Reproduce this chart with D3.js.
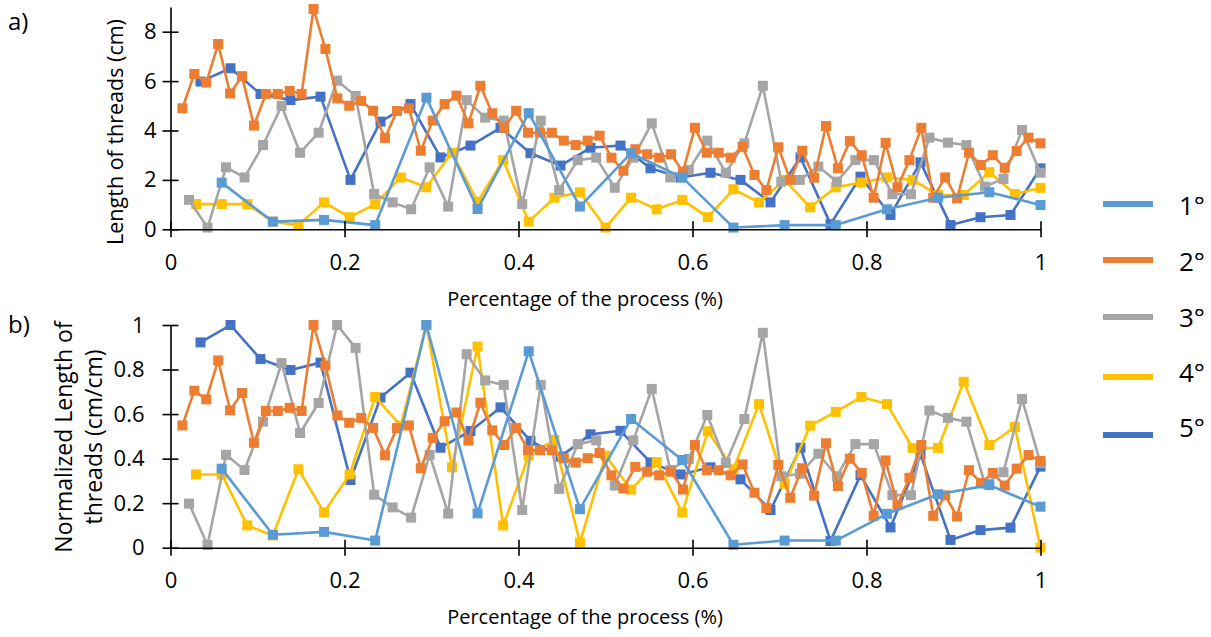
<!DOCTYPE html>
<html>
<head>
<meta charset="utf-8">
<script src="https://cdn.jsdelivr.net/npm/d3@7/dist/d3.min.js"></script>
<style>
body { margin: 0; background: #fff; }
svg { display: block; font-family: "Open Sans", sans-serif; }
</style>
</head>
<body>
<script>
const seriesNames = ["1°", "2°", "3°", "4°", "5°"]
const colors = ["#5B9BD5", "#ED7D31", "#A5A5A5", "#FFC000", "#4472C4"]

// a) length of threads (cm), samples spread evenly over the process
const lenS1 = [1.89, 0.31, 0.38, 0.17, 5.33, 0.82, 4.7, 0.92, 3.08, 2.1, 0.07, 0.17, 0.17, 0.81, 1.28, 1.5, 0.98]
const lenS2 = [4.9, 6.29, 5.94, 7.5, 5.5, 6.2, 4.2, 5.48, 5.48, 5.6,
  5.48, 8.92, 7.3, 5.3, 5.0, 5.2, 4.8, 3.7, 4.79, 4.9,
  3.18, 4.4, 5.07, 5.41, 4.29, 5.81, 4.7, 4.11, 4.8, 3.91,
  3.91, 3.91, 3.59, 3.41, 3.59, 3.79, 2.9, 2.37, 3.24, 3.04,
  2.9, 3.04, 2.33, 4.11, 3.1, 3.1, 2.9, 3.34, 2.2, 1.59,
  3.32, 2.0, 3.18, 2.09, 4.18, 2.47, 3.57, 3.0, 1.28, 3.5,
  1.7, 2.8, 4.11, 1.28, 2.1, 1.25, 3.1, 2.6, 3.0, 2.49,
  3.17, 3.71, 3.48]
const lenS3 = [1.19, 0.07, 2.51, 2.1, 3.41, 4.99, 3.1, 3.91, 6.02, 5.4,
  1.43, 1.09, 0.81, 2.51, 0.92, 5.23, 4.52, 4.4, 1.02, 4.4,
  1.59, 2.8, 2.9, 1.68, 2.9, 4.29, 2.1, 2.4, 3.59, 2.29,
  3.48, 5.81, 1.93, 2.0, 2.54, 1.93, 2.8, 2.8, 1.42, 1.42,
  3.71, 3.51, 3.41, 1.73, 2.04, 4.02, 2.29]
const lenS4 = [1.02, 1.02, 1.02, 0.31, 0.17, 1.09, 0.49, 1.02, 2.1, 1.7,
  3.1, 1.12, 2.8, 0.31, 1.28, 1.5, 0.07, 1.28, 0.81, 1.19,
  0.49, 1.62, 1.09, 2.0, 0.89, 1.7, 1.89, 2.1, 2.0, 1.39,
  1.39, 2.31, 1.43, 1.68]
const lenS5 = [5.98, 6.52, 5.48, 5.23, 5.37, 2.0, 4.36, 5.07, 2.91, 3.39,
  4.11, 3.08, 2.58, 3.3, 3.39, 2.47, 2.1, 2.29, 2.0, 1.09,
  2.91, 0.21, 2.13, 0.58, 2.71, 0.17, 0.49, 0.58, 2.47]

// b) normalized length of threads (cm/cm)
const normS1 = [0.355, 0.058, 0.071, 0.032, 1, 0.154, 0.882, 0.173, 0.578, 0.394, 0.013, 0.032, 0.032, 0.152, 0.24, 0.281, 0.184]
const normS2 = [0.549, 0.705, 0.666, 0.841, 0.617, 0.695, 0.471, 0.614, 0.614, 0.628,
  0.614, 1, 0.818, 0.594, 0.561, 0.583, 0.538, 0.415, 0.537, 0.549,
  0.357, 0.493, 0.568, 0.607, 0.481, 0.651, 0.527, 0.461, 0.538, 0.438,
  0.438, 0.438, 0.402, 0.382, 0.402, 0.425, 0.325, 0.266, 0.363, 0.341,
  0.325, 0.341, 0.261, 0.461, 0.348, 0.348, 0.325, 0.374, 0.247, 0.178,
  0.372, 0.224, 0.357, 0.234, 0.469, 0.277, 0.4, 0.336, 0.143, 0.392,
  0.191, 0.314, 0.461, 0.143, 0.235, 0.14, 0.348, 0.291, 0.336, 0.279,
  0.355, 0.416, 0.39]
const normS3 = [0.198, 0.012, 0.417, 0.349, 0.566, 0.829, 0.515, 0.65, 1, 0.897,
  0.238, 0.181, 0.135, 0.417, 0.153, 0.869, 0.751, 0.731, 0.169, 0.731,
  0.264, 0.465, 0.482, 0.279, 0.482, 0.713, 0.349, 0.399, 0.596, 0.38,
  0.578, 0.965, 0.321, 0.332, 0.422, 0.321, 0.465, 0.465, 0.236, 0.236,
  0.616, 0.583, 0.566, 0.287, 0.339, 0.668, 0.38]
const normS4 = [0.329, 0.329, 0.1, 0.055, 0.352, 0.158, 0.329, 0.677, 0.548, 1,
  0.361, 0.903, 0.1, 0.413, 0.484, 0.023, 0.413, 0.261, 0.384, 0.158,
  0.523, 0.352, 0.645, 0.287, 0.548, 0.61, 0.677, 0.645, 0.448, 0.448,
  0.745, 0.461, 0.542, 0]
const normS5 = [0.922, 1, 0.847, 0.798, 0.831, 0.304, 0.674, 0.786, 0.449, 0.524,
  0.63, 0.48, 0.409, 0.509, 0.525, 0.383, 0.329, 0.361, 0.307, 0.169,
  0.449, 0.03, 0.326, 0.091, 0.419, 0.035, 0.079, 0.09, 0.364]

const xTicks = [0, 0.2, 0.4, 0.6, 0.8, 1]
const yTicksA = [0, 2, 4, 6, 8]
const yTicksB = [0, 0.2, 0.4, 0.6, 0.8, 1]

const width = 1211, height = 637

const svg = d3.select("body").append("svg")
  .attr("width", width)
  .attr("height", height)

const x = d3.scaleLinear().domain([0, 1]).range([170.5, 1040.5])

function toPoints(values) {
  // each sample sits at its fraction of the process
  return values.map((v, i) => ({ x: (i + 1) / values.length, y: v }))
}

function drawPanel(opts) {
  const y = d3.scaleLinear().domain(opts.yDomain).range(opts.yRange)
  const g = svg.append("g")

  const line = d3.line().x(d => x(d.x)).y(d => y(d.y))

  // series 5 first so series 1 ends on top
  for (let k = opts.series.length - 1; k >= 0; k--) {
    const pts = toPoints(opts.series[k])
    const sg = g.append("g")
    sg.append("path")
      .datum(pts)
      .attr("d", line)
      .attr("fill", "none")
      .attr("stroke", colors[k])
      .attr("stroke-width", 2.6)
      .attr("stroke-linejoin", "round")
    sg.selectAll("rect")
      .data(pts)
      .enter()
      .append("rect")
      .attr("x", d => x(d.x) - 5)
      .attr("y", d => y(d.y) - 5)
      .attr("width", 10)
      .attr("height", 10)
      .attr("fill", colors[k])
  }

  // axes with ticks crossing the line
  const xAxis = g.append("g")
    .attr("transform", `translate(0,${opts.yRange[0]})`)
    .call(d3.axisBottom(x).tickValues(xTicks).tickSize(0).tickFormat(d => String(d)))
  xAxis.selectAll(".tick line").attr("y1", -8).attr("y2", 8)
  xAxis.selectAll(".tick text").attr("y", 33).attr("dy", "0.35em")

  const yAxis = g.append("g")
    .attr("transform", `translate(${x(0)},0)`)
    .call(d3.axisLeft(y).tickValues(opts.yTicks).tickSize(0).tickPadding(opts.yPad).tickFormat(d => String(d)))
  yAxis.selectAll(".tick line").attr("x1", -8).attr("x2", 8)

  for (const ax of [xAxis, yAxis]) {
    ax.select(".domain").attr("stroke", "#000").attr("stroke-width", 1.6)
    ax.selectAll(".tick line").attr("stroke", "#000").attr("stroke-width", 1.6)
    ax.selectAll(".tick text")
      .attr("font-family", "'Open Sans', sans-serif")
      .attr("font-size", 22)
      .attr("fill", "#000")
  }

  g.append("text")
    .attr("x", 585)
    .attr("y", opts.xTitleY)
    .attr("text-anchor", "middle")
    .attr("dominant-baseline", "central")
    .attr("font-size", 20)
    .text("Percentage of the process (%)")

  opts.yTitle.forEach((t, i) => {
    g.append("text")
      .attr("transform", `translate(${opts.yTitleX[i]},${opts.yTitleY}) rotate(-90)`)
      .attr("text-anchor", "middle")
      .attr("dominant-baseline", "central")
      .attr("font-size", opts.yTitleSize)
      .text(t)
  })

  g.append("text")
    .attr("x", 8)
    .attr("y", opts.tagY)
    .attr("dominant-baseline", "central")
    .attr("font-size", 24)
    .text(opts.tag)
}

drawPanel({
  series: [lenS1, lenS2, lenS3, lenS4, lenS5],
  yDomain: [0, 9], yRange: [229.3, 7], yTicks: yTicksA,
  yPad: 14, xTitleY: 298,
  yTitle: ["Length of threads (cm)"], yTitleX: [114], yTitleY: 132, yTitleSize: 21.5,
  tag: "a)", tagY: 20
})

drawPanel({
  series: [normS1, normS2, normS3, normS4, normS5],
  yDomain: [0, 1], yRange: [547.7, 325], yTicks: yTicksB,
  yPad: 26, xTitleY: 616,
  yTitle: ["Normalized Length of", "threads (cm/cm)"], yTitleX: [63, 93], yTitleY: 437, yTitleSize: 23,
  tag: "b)", tagY: 323
})

// legend
const legendY = [204, 260, 317, 377, 435]
const labelY = [205, 261, 317, 372, 427]
const legend = svg.append("g")
seriesNames.forEach((name, k) => {
  legend.append("line")
    .attr("x1", 1103).attr("x2", 1153)
    .attr("y1", legendY[k]).attr("y2", legendY[k])
    .attr("stroke", colors[k])
    .attr("stroke-width", 6)
  legend.append("text")
    .attr("x", 1179)
    .attr("y", labelY[k])
    .attr("dominant-baseline", "central")
    .attr("font-size", 26)
    .text(name)
})
</script>
</body>
</html>
